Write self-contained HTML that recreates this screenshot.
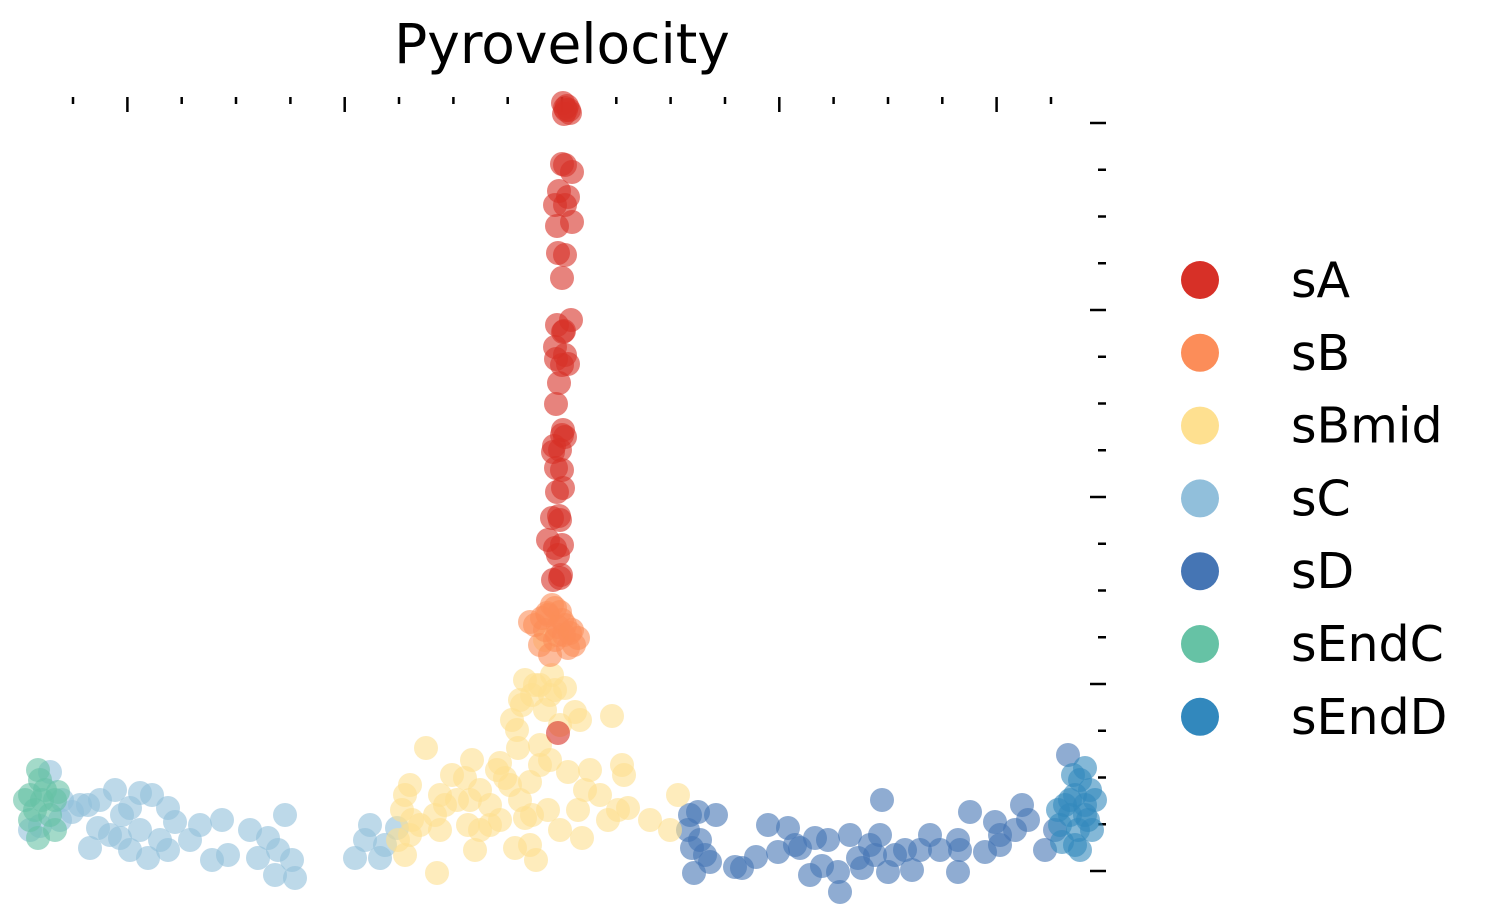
<!DOCTYPE html>
<html><head><meta charset="utf-8"><style>
body{margin:0;background:#fff;}
svg{display:block;font-family:"DejaVu Sans","Liberation Sans",sans-serif;}
</style></head><body>
<svg id="chart" width="1489" height="923" viewBox="0 0 1489 923">
<text x="562" y="63" font-size="55" text-anchor="middle" fill="#000">Pyrovelocity</text>
<g id="ticks"></g>
<g id="points"></g>
<g id="legend"></g>
</svg>
<script>
// data units: x relative to centre, y relative to baseline
const categories = ["sA","sB","sBmid","sC","sD","sEndC","sEndD"];
const colors = ["#d73027","#fc8d59","#fee090","#91bfdb","#4575b4","#66c2a5","#3288bd"];
const xMajorTicks = [-434.6,-217.3,0,217.3,434.6];
const xMinorTicks = [-489,-380.3,-326,-271.6,-163,-108.6,-54.3,54.3,108.6,163,271.6,326,380.3,489];
const yMajorTicks = [0,187,374,561,748];
const yMinorTicks = [46.75,93.5,140.25,233.75,280.5,327.25,420.75,467.5,514.25,607.75,654.5,701.25];
const sA_x=[1,4,8,3,3,10,6,-7,3,10,-4,3,0,9,-5,1,-7,3,0,6,-6,0,-9,3,-2,-6,0,-5,1,-10,-2,-14,-7,0,-9,-2,-4,-4,5,2,7,0,-3,-5,2,-6,-3,1,-8,-3,-1];
const sA_y=[768,761,758,763,706,699,674,666,666,649,618,616,593,551,546,539,524,516,506,507,467,436,419,434,421,403,401,379,383,353,351,331,323,326,291,293,316,138,765,757,761,707,680,645,540,512,488,441,425,355,296];
const sB_x=[-7,-14,-2,-27,-17,3,16,-7,-22,6,-12,0,-32,10,-5,-20,12,-10,-4,2,-15,8];
const sB_y=[263,256,259,246,241,246,233,231,226,223,216,251,249,241,236,253,226,266,244,236,258,238];
const sBmid_x=[-17,-37,-22,-7,3,-42,-17,13,50,-50,18,-22,-44,-136,-90,-62,-12,6,28,60,62,-110,-97,-152,-157,-122,-82,-57,-32,23,38,-92,-117,-72,-42,-14,16,56,66,-160,-150,-127,-94,-72,-62,-37,46,88,-122,-152,-82,-2,20,108,-164,-157,-87,-47,-32,-26,-125,116,-22,-30,-10,-40,-27,-12,-45,-2,-52,-65,-105,-142,-30];
const sBmid_y=[231,191,186,181,183,171,161,159,155,151,151,126,123,123,111,108,111,99,101,106,96,96,93,86,76,76,81,93,89,81,76,71,66,66,71,61,61,61,63,61,51,56,46,46,51,53,51,51,41,36,41,41,33,41,31,16,21,23,26,11,-2,76,106,176,196,166,186,176,141,146,86,101,71,46,56];
const sC_x=[-512,-462,-447,-422,-410,-432,-394,-440,-482,-490,-502,-464,-452,-422,-387,-372,-362,-340,-312,-294,-277,-472,-432,-414,-394,-350,-334,-304,-284,-270,-287,-267,-207,-192,-182,-197,-165,-177,-442,-402,-522,-532,-500,-474];
const sC_y=[99,71,81,78,76,63,63,56,66,59,51,43,36,41,49,31,46,51,41,33,56,23,21,13,21,11,16,13,21,11,-4,-7,13,46,13,31,43,26,33,31,45,41,71,66];
const sD_x=[128,136,154,126,138,130,143,132,148,173,180,194,216,206,226,238,253,248,260,276,278,288,296,300,308,318,320,326,333,343,350,358,368,378,396,396,408,423,433,438,453,460,466,483,493,506,438,398,313,266,233];
const sD_y=[56,59,56,41,31,23,16,-2,9,4,3,14,19,46,43,23,33,-4,5,-1,-21,36,13,3,26,36,71,-1,16,21,1,21,36,21,-1,31,59,19,49,26,41,66,51,21,41,116,36,21,16,31,26];
const sEndC_x=[-524,-522,-532,-517,-507,-527,-512,-537,-520,-504,-524,-507,-532];
const sEndC_y=[101,91,76,81,71,61,56,71,71,79,33,41,51];
const sEndD_x=[523,518,513,503,528,508,523,498,516,530,500,513,518,523,533,508,526,496,511];
const sEndD_y=[103,91,76,66,81,56,56,46,41,41,29,26,21,66,71,71,51,61,96];

const xScale = v => 562 + v;
const yScale = v => 871 - v;
const NS="http://www.w3.org/2000/svg";
const tk=document.getElementById('ticks');
function line(x1,y1,x2,y2,name){
  const l=document.createElementNS(NS,'line');
  l.setAttribute('x1',x1);l.setAttribute('y1',y1);l.setAttribute('x2',x2);l.setAttribute('y2',y2);
  l.setAttribute('stroke','#000');l.setAttribute('stroke-width','2.5');
  
  
  tk.appendChild(l);
}
xMajorTicks.forEach(v=>line(xScale(v),97,xScale(v),112,'x-major-tick'));
xMinorTicks.forEach(v=>line(xScale(v),97,xScale(v),104,'x-minor-tick'));
yMajorTicks.forEach(v=>line(1090,yScale(v),1106,yScale(v),'y-major-tick'));
yMinorTicks.forEach(v=>line(1098,yScale(v),1106,yScale(v),'y-minor-tick'));

const series=[[sC_x,sC_y,3],[sEndC_x,sEndC_y,5],[sD_x,sD_y,4],[sEndD_x,sEndD_y,6],[sBmid_x,sBmid_y,2],[sB_x,sB_y,1],[sA_x,sA_y,0]];
const pg=document.getElementById('points');
series.forEach(([xs,ys,ci])=>{
  xs.forEach((x,i)=>{
    const c=document.createElementNS(NS,'circle');
    c.setAttribute('cx',xScale(x));c.setAttribute('cy',yScale(ys[i]));c.setAttribute('r',12);
    c.setAttribute('fill',colors[ci]);c.setAttribute('fill-opacity','0.6');
    
    
    pg.appendChild(c);
  });
});
const lg=document.getElementById('legend');
categories.forEach((cat,i)=>{
  const y=280+i*72.8;
  const c=document.createElementNS(NS,'circle');
  c.setAttribute('cx',1200);c.setAttribute('cy',y);c.setAttribute('r',19);c.setAttribute('fill',colors[i]);
  
  
  lg.appendChild(c);
  const t=document.createElementNS(NS,'text');
  t.setAttribute('x',1291);t.setAttribute('y',y+17);t.setAttribute('font-size','49');
  t.textContent=cat;
  
  
  lg.appendChild(t);
});
</script>
</body></html>
